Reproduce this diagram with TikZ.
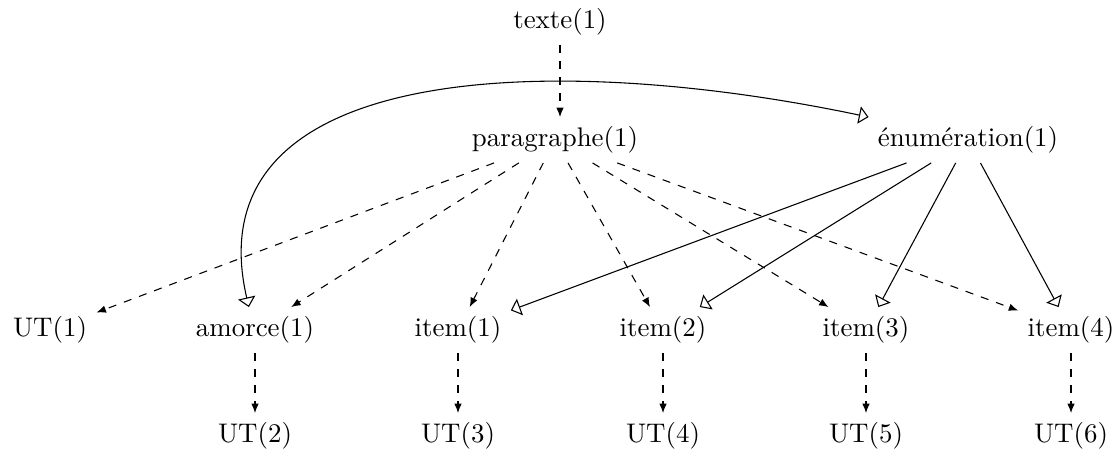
\documentclass[tikz,border=0pt]{standalone}
\usetikzlibrary{arrows.meta}
\begin{document}
\begin{tikzpicture}[x=0.3717pt,y=-0.3717pt,
  lbl/.style={inner sep=0.333em},
  dep/.style={dashed,-{Latex[length=3.5pt,width=2.8pt]}},
  sub/.style={-{Triangle[open,length=3.6pt,width=6.5pt]}},
  both/.style={{Triangle[open,length=3.6pt,width=6.5pt]}-{Triangle[open,length=3.6pt,width=6.5pt]}}]
\useasboundingbox (0,0) rectangle (1119,456);
\node[lbl] (texte) at (560,22) {texte(1)};
\node[lbl] (para) at (555,140) {paragraphe(1)};
\node[lbl] (enum) at (968,140) {énumération(1)};
\node[lbl] (ut1) at (50,330) {UT(1)};
\node[lbl] (amorce) at (255,330) {amorce(1)};
\node[lbl] (item1) at (458,330) {item(1)};
\node[lbl] (item2) at (663,330) {item(2)};
\node[lbl] (item3) at (866,330) {item(3)};
\node[lbl] (item4) at (1071,330) {item(4)};
\node[lbl] (ut2) at (255,436) {UT(2)};
\node[lbl] (ut3) at (458,436) {UT(3)};
\node[lbl] (ut4) at (663,436) {UT(4)};
\node[lbl] (ut5) at (866,436) {UT(5)};
\node[lbl] (ut6) at (1071,436) {UT(6)};

\draw[dep] (texte.south) -- (texte.south |- para.north);
\draw[dep] (para) -- (ut1);
\draw[dep] (para) -- (amorce);
\draw[dep] (para) -- (item1);
\draw[dep] (para) -- (item2);
\draw[dep] (para) -- (item3);
\draw[dep] (para) -- (item4);
\draw[sub] (enum) -- (item1);
\draw[sub] (enum) -- (item2);
\draw[sub] (enum) -- (item3);
\draw[sub] (enum) -- (item4);
\draw[dep] (amorce) -- (ut2);
\draw[dep] (item1) -- (ut3);
\draw[dep] (item2) -- (ut4);
\draw[dep] (item3) -- (ut5);
\draw[dep] (item4) -- (ut6);
\draw[both] (amorce.105) .. controls (192,62) and (550,50) .. (enum.167);
\end{tikzpicture}
\end{document}
